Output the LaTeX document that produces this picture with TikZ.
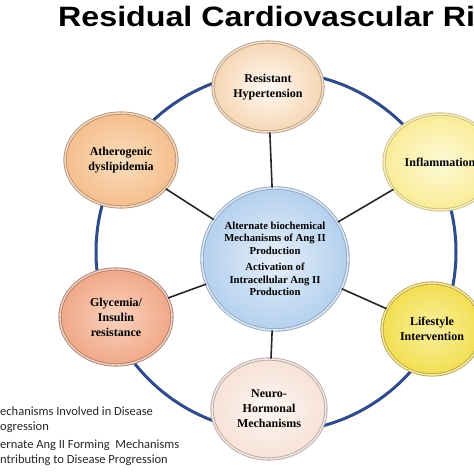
\documentclass[tikz,border=0pt]{standalone}
\usepackage{fontspec}
\setmainfont{Liberation Serif}
\newfontfamily\titlefont{Liberation Sans}
\newfontfamily\legendfont{Carlito}
\usetikzlibrary{shapes.geometric}

\definecolor{ringblue}{HTML}{2E4C8A}
\definecolor{hubblue}{HTML}{B4D0EE}
\definecolor{hubedge}{HTML}{8FA9C6}

\begin{document}
\begin{tikzpicture}[
  x=1pt, y=1pt,
  factor/.style={ellipse, minimum width=112pt, minimum height=94pt, inner sep=0pt, align=center, font=\bfseries\fontsize{12}{15}\selectfont, shading=radial, line width=0.9pt, double distance=1.4pt},
  hub/.style={ellipse, minimum width=146pt, minimum height=142pt, inner sep=0pt, align=center, font=\bfseries\fontsize{10.7}{12.5}\selectfont, shading=radial, inner color=hubblue!35, outer color=hubblue, draw=hubedge, double=hubedge!30, line width=0.9pt, double distance=1.6pt},
  spoke/.style={line width=1.6pt, black!85},
  ring/.style={line width=3pt, ringblue},
  legend/.style={anchor=west, inner sep=0pt, align=left, text=black!85, font=\legendfont\fontsize{12.5}{15}\selectfont}
]
\clip (0,0) rectangle (474,474);

% Title
\node[anchor=base west, inner sep=0pt] (title) at (58,447) {\scalebox{1.15}[1]{\titlefont\bfseries\fontsize{28}{30}\selectfont Residual Cardiovascular Ri}};

% Outer ring
\coordinate (ringc) at (276,222);
\draw[ring] (ringc) circle[radius=180];

% Centre
\node[hub] (hub) at (275,215) {Alternate biochemical\\Mechanisms of Ang II\\Production\\[4pt]Activation of\\Intracellular Ang II\\Production};

% Factors around the ring
\node[factor, minimum width=110pt, minimum height=90pt, inner color=white!80!orange!20, outer color={rgb,255:red,246;green,214;blue,180}, draw={rgb,255:red,190;green,160;blue,130}, double={rgb,255:red,240;green,226;blue,210}] (res) at (268,387) {Resistant\\Hypertension};
\node[factor, minimum height=96pt, inner color={rgb,255:red,253;green,250;blue,215}, outer color={rgb,255:red,249;green,236;blue,150}, draw={rgb,255:red,205;green,190;blue,120}, double={rgb,255:red,245;green,240;blue,200}] (infl) at (440,312) {Inflammation};
\node[factor, minimum width=100pt, minimum height=92pt, inner color={rgb,255:red,250;green,240;blue,160}, outer color={rgb,255:red,242;green,222;blue,80}, draw={rgb,255:red,190;green,165;blue,70}, double={rgb,255:red,245;green,235;blue,170}] (life) at (432,145) {Lifestyle\\Intervention};
\node[factor, minimum width=114pt, minimum height=100pt, inner color={rgb,255:red,253;green,246;blue,242}, outer color={rgb,255:red,246;green,226;blue,216}, draw={rgb,255:red,190;green,170;blue,165}, double={rgb,255:red,240;green,232;blue,228}] (neuro) at (269,65) {Neuro-\\Hormonal\\Mechanisms};
\node[factor, minimum height=96pt, inner color={rgb,255:red,249;green,210;blue,190}, outer color={rgb,255:red,240;green,168;blue,136}, draw={rgb,255:red,176;green,128;blue,108}, double={rgb,255:red,238;green,210;blue,196}] (gly) at (116,157) {Glycemia/\\Insulin\\resistance};
\node[factor, inner color={rgb,255:red,251;green,222;blue,190}, outer color={rgb,255:red,245;green,190;blue,140}, draw={rgb,255:red,186;green,144;blue,112}, double={rgb,255:red,240;green,220;blue,200}] (ath) at (121,314) {Atherogenic\\dyslipidemia};

% Spokes
\foreach \f in {res, infl, life, neuro, gly, ath} {
  \draw[spoke] (hub) -- (\f);
}

% Legend
\node[legend] (leg1) at (0,54.5) {echanisms Involved in Disease\\ogression};
\node[legend] (leg2) at (0,21.5) {ernate Ang II Forming\ \ Mechanisms\\ntributing to Disease Progression};

\end{tikzpicture}
\end{document}
